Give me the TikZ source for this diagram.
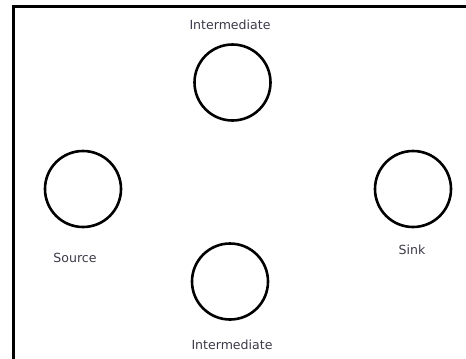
\documentclass[tikz,border=0pt]{standalone}
\usepackage{fontspec}
\setmainfont{DejaVu Sans}
\definecolor{labelgray}{HTML}{3C3A48}
\begin{document}
\begin{tikzpicture}[x=1bp,y=-1bp,
  vertex/.style={circle,draw=black,line width=2.6bp,minimum size=76bp,inner sep=0pt},
  lbl/.style={font=\fontsize{12.6}{14}\selectfont,text=labelgray,inner sep=0pt}]
\useasboundingbox (0,0) rectangle (466,358);
\clip (0,0) rectangle (466,358);
\draw[line width=3bp] (13.5,6.5) rectangle (520,400);
\node[vertex] (top) at (232.5,82.5) {};
\node[vertex] (src) at (83,189) {};
\node[vertex] (sink) at (413,189) {};
\node[vertex] (bot) at (230,281.5) {};
\node[lbl] (ltop) at (230,25) {Intermediate};
\node[lbl] (lsrc) at (75,258) {Source};
\node[lbl] (lsink) at (412,250) {Sink};
\node[lbl] (lbot) at (232,345) {Intermediate};
\end{tikzpicture}
\end{document}
